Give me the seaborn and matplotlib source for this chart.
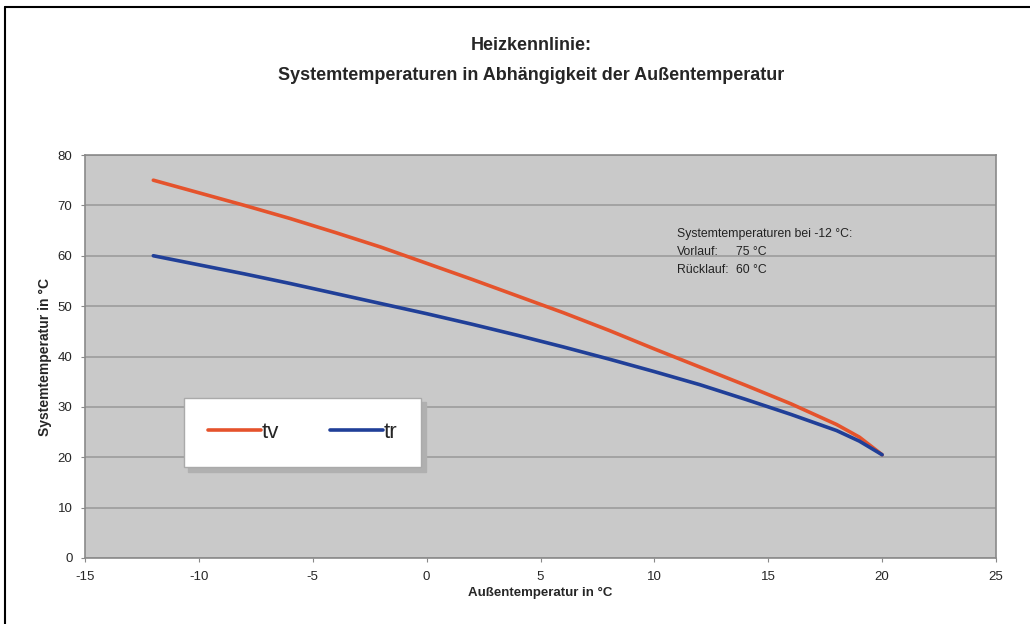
import matplotlib
matplotlib.use("Agg")
import matplotlib.pyplot as plt
import seaborn as sns
import pandas as pd
from matplotlib.lines import Line2D

outdoor = [-12, -10, -8, -6, -4, -2, 0, 2, 4, 6, 8, 10, 12, 14, 16, 18, 19, 20]
tv = [75, 72.5, 70, 67.4, 64.6, 61.7, 58.5, 55.3, 52, 48.7, 45.2, 41.5,
      37.9, 34.3, 30.6, 26.5, 24, 20.5]
tr = [60, 58.2, 56.4, 54.5, 52.5, 50.5, 48.5, 46.4, 44.2, 41.9, 39.5, 37,
      34.4, 31.5, 28.5, 25.3, 23.2, 20.5]
series_names = ["tv", "tr"]
series_colors = ["#e5532c", "#203f98"]
x_ticks = [-15, -10, -5, 0, 5, 10, 15, 20, 25]
y_ticks = [0, 10, 20, 30, 40, 50, 60, 70, 80]

df = pd.concat([
    pd.DataFrame({"x": outdoor, "y": tv, "s": "tv"}),
    pd.DataFrame({"x": outdoor, "y": tr, "s": "tr"}),
])

sns.set_theme(style="white")
plt.rcParams["font.family"] = ["Liberation Sans", "DejaVu Sans"]

fig = plt.figure(figsize=(10.3, 6.24), dpi=100)
ax = fig.add_axes([85 / 1030, 1 - 558 / 624, 911 / 1030, 403 / 624])
ax.set_facecolor("#c9c9c9")

sns.lineplot(data=df, x="x", y="y", hue="s", hue_order=series_names,
             palette=series_colors, linewidth=2.6, ax=ax, legend=False,
             sort=False, zorder=3, solid_capstyle="round")

ax.set_xlim(-15, 25)
ax.set_ylim(0, 80)
ax.set_xticks(x_ticks)
ax.set_yticks(y_ticks)
ax.set_xticklabels([str(t) for t in x_ticks], fontsize=9.5)
ax.set_yticklabels([str(t) for t in y_ticks], fontsize=9.5)
ax.yaxis.grid(True, color="#9c9c9c", linewidth=1.2)
ax.xaxis.grid(False)
ax.tick_params(axis="both", which="both", length=3, width=0.8, color="#888888",
               direction="out", pad=6)
ax.tick_params(axis="x", bottom=True)
ax.tick_params(axis="y", left=True)
for sp in ax.spines.values():
    sp.set_color("#8a8a8a")
    sp.set_linewidth(1.2)

ax.set_xlabel("Außentemperatur in °C", fontsize=9.5, fontweight="bold", labelpad=3)
ax.set_ylabel("Systemtemperatur in °C", fontsize=10, fontweight="bold", labelpad=4)

fig.text(531 / 1030, 1 - 45 / 624, "Heizkennlinie:", ha="center", va="center",
         fontsize=13, fontweight="bold")
fig.text(531 / 1030, 1 - 75 / 624, "Systemtemperaturen in Abhängigkeit der Außentemperatur",
         ha="center", va="center", fontsize=13, fontweight="bold")

txt_kw = dict(fontsize=8.8, va="center", ha="left", color="#222222")
fig.text(677 / 1030, 1 - 234 / 624, "Systemtemperaturen bei -12 °C:", **txt_kw)
fig.text(677 / 1030, 1 - 252 / 624, "Vorlauf:", **txt_kw)
fig.text(736 / 1030, 1 - 252 / 624, "75 °C", **txt_kw)
fig.text(677 / 1030, 1 - 270 / 624, "Rücklauf:", **txt_kw)
fig.text(736 / 1030, 1 - 270 / 624, "60 °C", **txt_kw)

handles = [Line2D([0], [0], color=c, lw=2.6) for c in series_colors]
leg = ax.legend(handles, series_names, loc="center",
                bbox_to_anchor=(((182 + 423) / 2 - 85) / 911,
                                1 - ((397 + 468) / 2 - 155) / 403),
                ncol=2, fontsize=16, handlelength=2.4,
                handletextpad=0.0, columnspacing=2.3, borderpad=1.1,
                frameon=True, fancybox=False,
                shadow={"color": "#b0b0b0", "alpha": 1, "ox": 3, "oy": -3},
                framealpha=1, borderaxespad=0)
leg.get_frame().set_edgecolor("#aaaaaa")
leg.get_frame().set_linewidth(1.0)
leg.get_frame().set_facecolor("white")

# outer frame (top and left edges)
fig.add_artist(Line2D([5 / 1030, 1.0], [1 - 7 / 624, 1 - 7 / 624],
                      transform=fig.transFigure, color="black", lw=1.5))
fig.add_artist(Line2D([5 / 1030, 5 / 1030], [0, 1 - 7 / 624],
                      transform=fig.transFigure, color="black", lw=1.5))

fig.savefig("out.png", dpi=100, facecolor="white")
